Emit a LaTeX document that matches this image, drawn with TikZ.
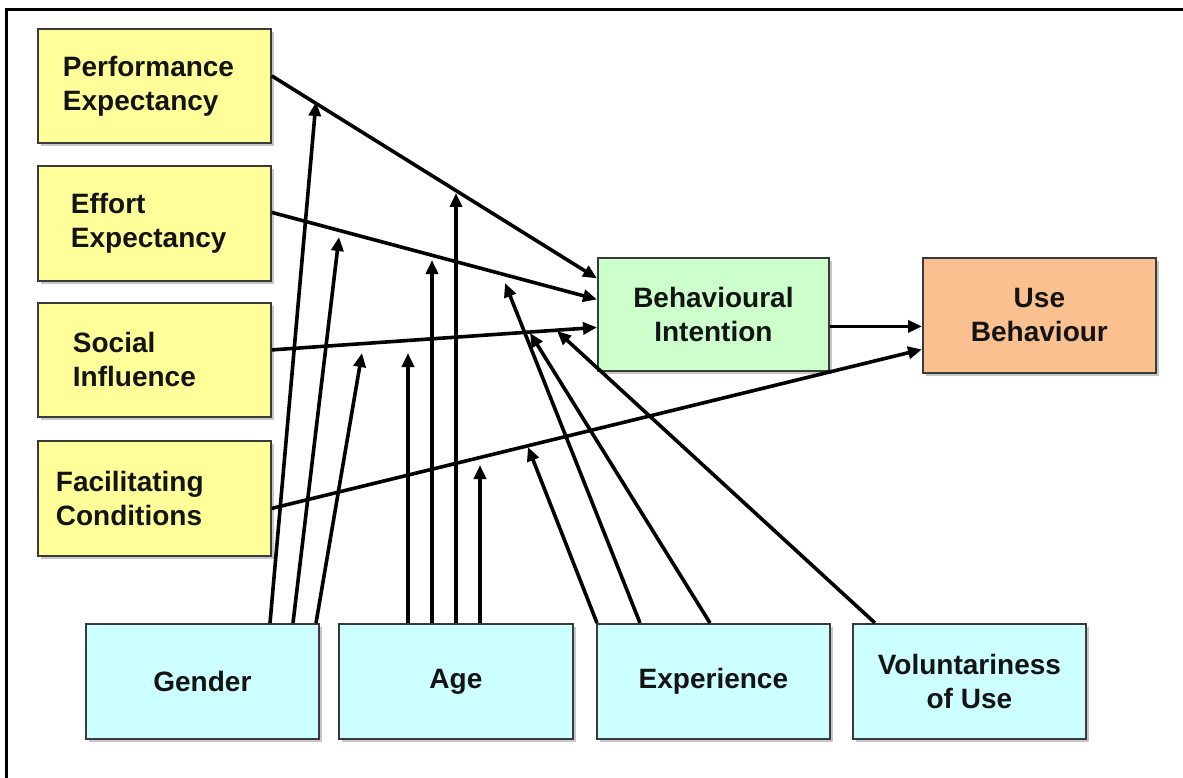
\documentclass[tikz,border=0pt]{standalone}
\usepackage{fontspec}
\setmainfont{Liberation Sans}
\usetikzlibrary{arrows.meta,shadows}
\definecolor{cyel}{HTML}{FFFF99}
\definecolor{cgrn}{HTML}{CCFFCC}
\definecolor{corg}{HTML}{FAC090}
\definecolor{ccyn}{HTML}{CCFFFF}
\definecolor{cbrd}{HTML}{3A3A3A}
\definecolor{ctxt}{HTML}{141414}
\tikzset{
  box/.style={draw=cbrd, line width=1.8pt, anchor=north west, text=ctxt,
    font=\fontsize{28}{34}\selectfont\bfseries, inner ysep=0pt,
    drop shadow={shadow xshift=3pt, shadow yshift=-3pt, opacity=0.22, fill=black}},
  leftbox/.style={box, fill=cyel, minimum height=#1, align=left},
  cbox/.style={box, align=center, inner xsep=0pt, minimum width=233pt, minimum height=115pt},
  arr/.style={line width=3.6pt, draw=black, -{Triangle[length=14pt,width=12pt]}},
  frameline/.style={line width=3pt, draw=black}
}
\begin{document}
\begin{tikzpicture}[x=1pt,y=-1pt]
\useasboundingbox (0,0) rectangle (1183,778);
\fill[white] (0,0) rectangle (1183,778);
% frame
\coordinate (fa) at (6,778);
\coordinate (fb) at (6,10);
\coordinate (fc) at (1183,10);
\draw[frameline] (fa) -- (fb) -- (fc);

% left boxes
\node[leftbox=114pt, inner xsep=25pt, text width=183pt] (pe) at (37,28) {Performance\\Expectancy};
\node[leftbox=115pt, inner xsep=33pt, text width=167pt] (ee) at (37,165) {Effort\\Expectancy};
\node[leftbox=114pt, inner xsep=35pt, text width=163pt] (si) at (37,302) {Social\\Influence};
\node[leftbox=115pt, inner xsep=18pt, text width=197pt] (fc) at (37,440) {Facilitating\\Conditions};

% outcome boxes
\node[cbox, fill=cgrn, minimum width=231pt, minimum height=113pt] (bi) at (597,257) {Behavioural\\Intention};
\node[cbox, fill=corg] (ub) at (922,257) {Use\\Behaviour};

% moderators
\node[cbox, fill=ccyn] (gd) at (85,623) {Gender};
\node[cbox, fill=ccyn, minimum width=234pt] (ag) at (338,623) {Age};
\node[cbox, fill=ccyn] (ex) at (596,623) {Experience};
\node[cbox, fill=ccyn] (vu) at (852,623) {Voluntariness\\of Use};

% main paths
\draw[arr] ([yshift=10pt]pe.east) -- ([yshift=36pt]bi.west);
\draw[arr] ([yshift=11pt]ee.east) -- ([yshift=15pt]bi.west);
\draw[arr] ([yshift=10pt]si.east) -- ([yshift=-13pt]bi.west);
\draw[arr] ([yshift=-10pt]fc.east) -- ([yshift=-34pt]ub.west);
\draw[arr] ([yshift=-12pt]bi.east) -- ([yshift=-11pt]ub.west);

% moderation targets
\coordinate (tg1) at (316,102);
\coordinate (tg2) at (339,237);
\coordinate (tg3) at (362,353);
\coordinate (ta1) at (408,353);
\coordinate (ta2) at (432,260);
\coordinate (ta3) at (456,193);
\coordinate (ta4) at (480,465);
\coordinate (te1) at (528,447);
\coordinate (te2) at (505,283);
\coordinate (te3) at (530,333);
\coordinate (tv1) at (557,331);

% gender
\draw[arr] ([xshift=185pt]gd.north west) -- (tg1);
\draw[arr] ([xshift=208pt]gd.north west) -- (tg2);
\draw[arr] ([xshift=231pt]gd.north west) -- (tg3);
% age
\draw[arr] ([xshift=70pt]ag.north west) -- (ta1);
\draw[arr] ([xshift=94pt]ag.north west) -- (ta2);
\draw[arr] ([xshift=118pt]ag.north west) -- (ta3);
\draw[arr] ([xshift=142pt]ag.north west) -- (ta4);
% experience
\draw[arr] ([xshift=1pt]ex.north west) -- (te1);
\draw[arr] ([xshift=44pt]ex.north west) -- (te2);
\draw[arr] ([xshift=114pt]ex.north west) -- (te3);
% voluntariness
\draw[arr] ([xshift=23pt]vu.north west) -- (tv1);
\end{tikzpicture}
\end{document}
